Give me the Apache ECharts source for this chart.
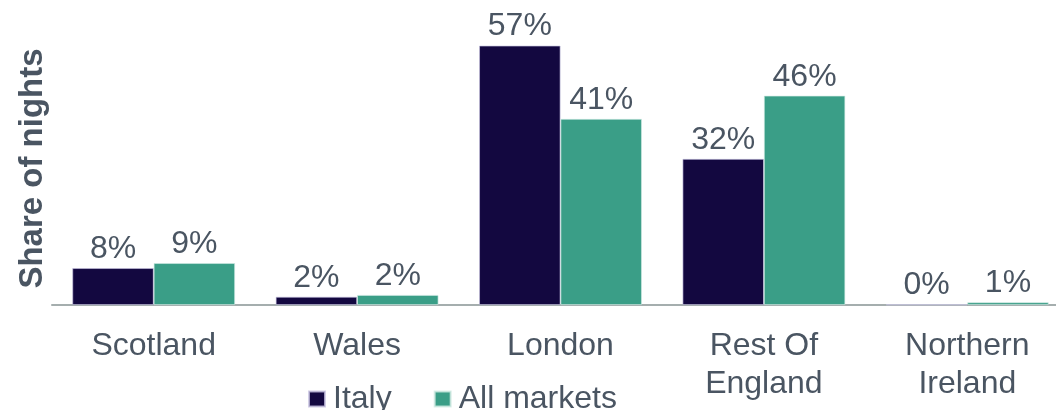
<!DOCTYPE html>
<html>
<head>
<meta charset="utf-8">
<script src="https://cdn.jsdelivr.net/npm/echarts@6/dist/echarts.min.js"></script>
<style>
html,body{margin:0;padding:0;background:#fff;}
#chart{width:1056px;height:410px;}
</style>
</head>
<body>
<div id="chart"></div>
<script>
const categories = ['Scotland', 'Wales', 'London', 'Rest Of\nEngland', 'Northern\nIreland'];
const italy = [8.1, 1.8, 57.0, 32.1, 0.1];
const allMarkets = [9.2, 2.2, 40.9, 46.0, 0.6];
const seriesNames = ['Italy', 'All markets'];
const colors = ['#130840', '#3a9e87'];
const textColor = '#4a5562';
const font = 'Liberation Sans, Arial, sans-serif';

const chart = echarts.init(document.getElementById('chart'), null, {renderer: 'canvas'});
const labelOpt = {
  show: true,
  position: 'top',
  distance: 3,
  color: textColor,
  fontSize: 32,
  fontFamily: font,
  formatter: p => Math.round(p.value) + '%'
};
chart.setOption({
  animation: false,
  color: colors,
  grid: {left: 52, top: 32, height: 273, width: 1017, outerBoundsMode: 'none', containLabel: false},
  legend: {
    data: seriesNames,
    left: 308,
    top: 383,
    padding: 0,
    itemWidth: 16,
    itemHeight: 15,
    itemGap: 42,
    icon: 'rect',
    textStyle: {color: textColor, fontSize: 32, fontFamily: font, padding: [0, 0, 0, 3]}
  },
  xAxis: {
    type: 'category',
    data: categories,
    axisLine: {show: true, lineStyle: {color: '#a5aeae', width: 2}},
    axisTick: {show: false},
    axisLabel: {color: textColor, fontSize: 32, fontFamily: font, margin: 22, lineHeight: 38, interval: 0}
  },
  yAxis: {
    type: 'value',
    min: 0,
    max: 60,
    name: 'Share of nights',
    nameLocation: 'middle',
    nameGap: 3,
    nameTextStyle: {color: textColor, fontSize: 33, fontWeight: 'bold', fontFamily: font},
    axisLine: {show: false},
    axisTick: {show: false},
    axisLabel: {show: false},
    splitLine: {show: false}
  },
  series: [
    {
      name: seriesNames[0],
      type: 'bar',
      data: italy,
      barGap: '0%',
      barCategoryGap: '20%',
      itemStyle: {color: colors[0], borderColor: 'rgba(200,195,225,0.8)', borderWidth: 0.8},
      label: labelOpt
    },
    {
      name: seriesNames[1],
      type: 'bar',
      data: allMarkets,
      barGap: '0%',
      barCategoryGap: '20%',
      itemStyle: {color: colors[1], borderColor: 'rgba(210,235,228,0.8)', borderWidth: 0.8},
      label: labelOpt
    }
  ]
});
</script>
</body>
</html>
